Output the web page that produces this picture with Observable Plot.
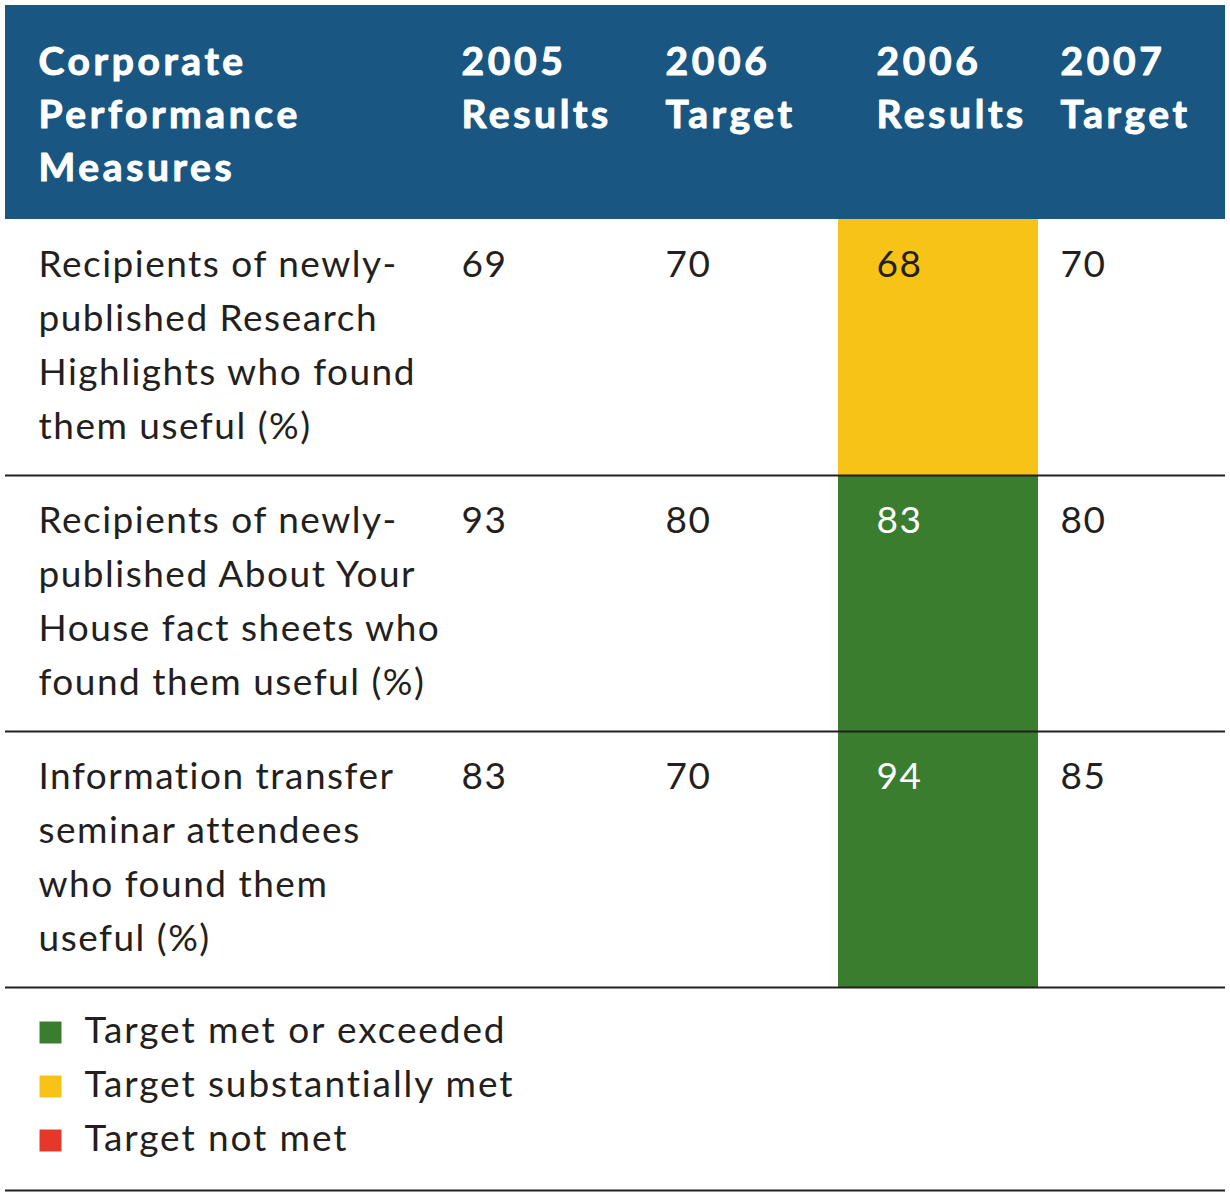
<!DOCTYPE html>
<html>
<head>
<meta charset="utf-8">
<script src="https://cdn.jsdelivr.net/npm/d3@7"></script>
<script src="https://cdn.jsdelivr.net/npm/@observablehq/plot@0.6"></script>
<style>
  html, body { margin: 0; padding: 0; background: #ffffff; }
  #chart svg g[aria-label="text"] { letter-spacing: 1.5px; }
  #chart svg g[aria-label="text"][font-weight="bold"] { letter-spacing: 3.6px; }
  #chart svg g.legend-text { letter-spacing: 1.9px; }
</style>
</head>
<body>
<div id="chart"></div>
<script>
// ---- data ----
const headers = ["Corporate\nPerformance\nMeasures", "2005\nResults", "2006\nTarget", "2006\nResults", "2007\nTarget"];
const measures = [
  "Recipients of newly-\npublished Research\nHighlights who found\nthem useful (%)",
  "Recipients of newly-\npublished About Your\nHouse fact sheets who\nfound them useful (%)",
  "Information transfer\nseminar attendees\nwho found them\nuseful (%)"
];
const results2005 = [69, 93, 83];
const target2006 = [70, 80, 70];
const results2006 = [68, 83, 94];
const target2007 = [70, 80, 85];
const status2006 = ["Target substantially met", "Target met or exceeded", "Target met or exceeded"];
const legendLabels = ["Target met or exceeded", "Target substantially met", "Target not met"];

// ---- styles / layout ----
const statusColors = ["#3a7d2f", "#f6c316", "#e6382a"];
const headerBlue = "#1a5682";
const ink = "#231f20";
const fontBody = 37;
const fontHead = 39;
const colPad = [33, 38, 38, 38, 22];

const rows = measures.map((m, i) => ({
  i,
  cells: [m, results2005[i], target2006[i], results2006[i], target2007[i]],
  status: status2006[i]
}));
const legend = legendLabels.map((label, i) => ({label, i}));
const color = d3.scaleOrdinal(legendLabels, statusColors);

const marks = [
  // header band
  Plot.rect([0], {x1: 0, x2: 5, y1: 0, y2: 1, fill: headerBlue}),
  // highlighted 2006 results cells
  Plot.rect(rows, {x1: 3, x2: 4, y1: d => d.i + 1, y2: d => d.i + 2, fill: d => color(d.status)}),
  // row rules
  Plot.ruleY([2, 3, 4, 8], {x1: 0, x2: 5, stroke: ink, strokeWidth: 2}),
  // header text
  ...headers.map((h, c) => Plot.text([h], {
    x: c, y: 0, text: d => d, dx: colPad[c], dy: 32,
    textAnchor: "start", lineAnchor: "top", lineHeight: 53 / fontHead,
    fontSize: fontHead, fontWeight: "bold", fill: "white",
    stroke: "white", strokeWidth: 1
  })),
  // body text
  ...[0, 1, 2, 3, 4].map(c => Plot.text(rows, {
    x: c, y: d => d.i + 1, text: d => String(d.cells[c]), dx: colPad[c], dy: 19,
    textAnchor: "start", lineAnchor: "top", lineHeight: 54 / fontBody,
    fontSize: fontBody,
    fill: d => (c === 3 && d.status === "Target met or exceeded") ? "white" : ink
  })),
  // legend swatches
  Plot.dot(legend, {x: 0, y: d => d.i + 5, dx: 45, dy: 16, symbol: "square", r: 12.4, fill: d => color(d.label)}),
  // legend labels
  Plot.text(legend, {
    x: 0, y: d => d.i + 5, text: "label", dx: 79, dy: 0,
    textAnchor: "start", lineAnchor: "top", fontSize: fontBody, fill: ink
  })
];

const chart = Plot.plot({
  width: 1230,
  height: 1194,
  margin: 0,
  x: {type: "linear", domain: [0, 1, 2, 3, 4, 5], range: [5, 423, 627, 838, 1038, 1225], axis: null},
  y: {type: "linear", domain: [0, 1, 2, 3, 4, 5, 6, 7, 8], range: [5, 219, 475, 731, 987, 1016, 1070, 1124, 1190], axis: null},
  style: {fontFamily: "Lato, 'Open Sans', sans-serif", background: "white", color: ink},
  marks
});
// legend labels are the last text mark
const textGroups = chart.querySelectorAll('g[aria-label="text"]');
textGroups[textGroups.length - 1].classList.add("legend-text");
document.getElementById("chart").appendChild(chart);
</script>
</body>
</html>
